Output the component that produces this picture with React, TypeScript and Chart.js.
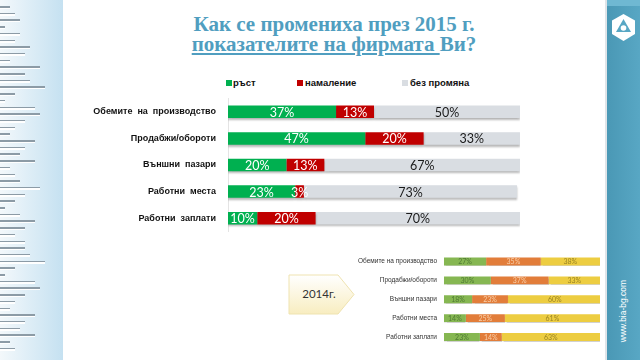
import React, { useEffect, useRef } from "react";
import { Chart, registerables } from "chart.js";
Chart.register(...registerables);

const categories = [
  "Обемите  на  производство",
  "Продабжи/обороти",
  "Външни  пазари",
  "Работни  места",
  "Работни  заплати",
];
const categories2014 = [
  "Обемите на производство",
  "Продабжи/обороти",
  "Външни пазари",
  "Работни места",
  "Работни заплати",
];
const seriesNames = ["ръст", "намаление", "без промяна"];
const growth2015 = [37, 47, 20, 23, 10];
const decline2015 = [13, 20, 13, 3, 20];
const same2015 = [50, 33, 67, 73, 70];
const growth2014 = [27, 30, 18, 14, 23];
const decline2014 = [35, 37, 23, 25, 14];
const same2014 = [38, 33, 60, 61, 63];

const colors2015 = ["#00b050", "#c00000", "#d9dde2"];
const labelColors2015 = ["#ffffff", "#ffffff", "#1a1a1a"];
const colors2014 = ["#86b752", "#e27d3a", "#edcd41"];
const labelColors2014 = ["#4f7a33", "#f9cfa8", "#9a8424"];

const decoLines = [10, 15, 20, 5, 20, 15, 30, 25, 10, 40, 25, 30, 45, 15, 5, 35, 40, 25, 15, 10, 35, 25, 20, 35, 10, 15, 20, 40, 25, 15, 5, 20, 35, 25, 15, 25, 25, 30, 45, 15, 5, 35, 40, 25, 15, 10, 35, 25, 20, 35, 10, 15];

const segPlugin: any = {
  id: "segLabels",
  beforeDatasetsDraw(chart: any, _a: any, opts: any) {
    const ctx = chart.ctx;
    ctx.save();
    ctx.shadowColor = opts.shadowColor;
    ctx.shadowOffsetY = opts.shadowOffset;
    ctx.shadowBlur = opts.shadowBlur;
  },
  afterDatasetsDraw(chart: any, _a: any, opts: any) {
    const ctx = chart.ctx;
    ctx.restore();
    ctx.save();
    ctx.font = opts.font;
    ctx.textAlign = "center";
    ctx.textBaseline = "middle";
    chart.data.datasets.forEach((ds: any, di: number) => {
      const meta = chart.getDatasetMeta(di);
      meta.data.forEach((el: any, i: number) => {
        const p = el.getProps(["x", "y", "base"], true);
        ctx.fillStyle = opts.colors[di];
        ctx.fillText(ds.data[i] + "%", (p.x + p.base) / 2, p.y + opts.dy);
      });
    });
    ctx.restore();
  },
};

function makeChart(
  canvas: HTMLCanvasElement,
  labels: string[],
  series: number[][],
  cols: string[],
  lblCols: string[],
  o: any
) {
  return new Chart(canvas, {
    type: "bar",
    data: {
      labels,
      datasets: series.map((d, i) => ({
        label: seriesNames[i],
        data: d,
        backgroundColor: cols[i],
        borderWidth: 0,
        barPercentage: o.barPct,
        categoryPercentage: 1,
      })),
    },
    options: {
      indexAxis: "y",
      responsive: false,
      animation: false,
      layout: { padding: o.padding },
      plugins: {
        legend: { display: false },
        tooltip: { enabled: false },
        segLabels: {
          colors: lblCols,
          font: o.labelFont,
          dy: o.dy,
          shadowColor: o.shadowColor,
          shadowOffset: o.shadowOffset,
          shadowBlur: o.shadowBlur,
        },
      } as any,
      scales: {
        x: { stacked: true, min: 0, max: 100, display: false },
        y: {
          stacked: true,
          grid: { display: false, drawTicks: false },
          border: { display: o.border, color: "#e4e4e4" },
          ticks: {
            padding: o.tickPad,
            color: o.tickColor,
            font: o.tickFont,
          },
          afterFit: (s: any) => {
            s.width = o.axisWidth;
          },
        },
      },
    },
    plugins: [segPlugin],
  } as any);
}

function MainChart() {
  const ref = useRef<HTMLCanvasElement>(null);
  useEffect(() => {
    const c = makeChart(
      ref.current!,
      categories,
      [growth2015, decline2015, same2015],
      colors2015,
      labelColors2015,
      {
        barPct: 0.47,
        padding: { top: 18.5, bottom: 18.5, right: 20, left: 0 },
        labelFont: "12.5px Lato",
        dy: 1,
        shadowColor: "rgba(0,0,0,0.28)",
        shadowOffset: 2,
        shadowBlur: 2,
        border: true,
        tickPad: 12,
        tickColor: "#111111",
        tickFont: { family: "Liberation Sans", size: 9, weight: "bold" },
        axisWidth: 228,
      }
    );
    return () => c.destroy();
  }, []);
  return (
    <canvas
      ref={ref}
      width={540}
      height={170}
      style={{ position: "absolute", left: 0, top: 79.5, width: 540, height: 170 }}
    />
  );
}

function InsetChart() {
  const ref = useRef<HTMLCanvasElement>(null);
  useEffect(() => {
    const c = makeChart(
      ref.current!,
      categories2014,
      [growth2014, decline2014, same2014],
      colors2014,
      labelColors2014,
      {
        barPct: 0.42,
        padding: { top: 14, bottom: 13.5, right: 10, left: 0 },
        labelFont: "7px Lato",
        dy: 0.5,
        shadowColor: "rgba(0,0,0,0.18)",
        shadowOffset: 1,
        shadowBlur: 1,
        border: false,
        tickPad: 7,
        tickColor: "#333333",
        tickFont: { family: "Liberation Sans", size: 6.5 },
        axisWidth: 94,
      }
    );
    return () => c.destroy();
  }, []);
  return (
    <canvas
      ref={ref}
      width={260}
      height={122}
      style={{ position: "absolute", left: 350, top: 238, width: 260, height: 122 }}
    />
  );
}

export default function App() {
  const legendItems = [
    { x: 226, tx: 233 },
    { x: 297, tx: 305 },
    { x: 402, tx: 410 },
  ];
  return (
    <div
      style={{
        position: "absolute",
        left: 0,
        top: 0,
        width: 640,
        height: 360,
        overflow: "hidden",
        background: "#ffffff",
        fontFamily: "Liberation Sans, sans-serif",
      }}
    >
      {/* left decoration */}
      <div
        style={{
          position: "absolute",
          left: 0,
          top: 0,
          width: 63,
          height: 360,
          background: "linear-gradient(to right, #f3f8fb, #c5e1f1)",
        }}
      />
      {decoLines.map((len, i) => (
        <React.Fragment key={i}>
          <div
            style={{
              position: "absolute",
              left: 0,
              top: 6 + i * 6.7,
              width: len,
              height: 1.5,
              background: "#8c9ba6",
            }}
          />
          <div
            style={{
              position: "absolute",
              left: 0,
              top: 7.5 + i * 6.7,
              width: len,
              height: 1.5,
              background: "#ffffff",
            }}
          />
        </React.Fragment>
      ))}

      {/* right bar */}
      <div
        style={{
          position: "absolute",
          left: 605,
          top: 0,
          width: 2,
          height: 360,
          background: "#dfe4e8",
        }}
      />
      <div
        style={{
          position: "absolute",
          left: 607,
          top: 0,
          width: 33,
          height: 360,
          background: "linear-gradient(to right, #4a98b5, #58a7c4)",
        }}
      />
      <svg
        width={33}
        height={60}
        style={{ position: "absolute", left: 607, top: 0 }}
      >
        <polygon points="0,0 33,0 33,6 0,6" fill="#6fb8d2" />
        <polygon points="16.5,14 28,20.5 28,34 16.5,41 5,34 5,20.5" fill="#ffffff" />
        <polygon points="16.5,19 24,32 9,32" fill="#58a7c4" />
        <circle cx={16.5} cy={28} r={2.8} fill="#ffffff" />
      </svg>
      <div
        style={{
          position: "absolute",
          left: 623,
          top: 311,
          transform: "translate(-50%, -50%) rotate(-90deg)",
          color: "#ffffff",
          fontSize: 8.5,
          fontFamily: "Liberation Sans, sans-serif",
          whiteSpace: "nowrap",
        }}
      >
        www.bia-bg.com
      </div>

      {/* title */}
      <div
        style={{
          position: "absolute",
          left: 134,
          top: 14,
          width: 400,
          textAlign: "center",
          fontFamily: "Liberation Serif, serif",
          fontWeight: "bold",
          fontSize: 21,
          lineHeight: "20px",
          color: "#509ec0",
        }}
      >
        Как се промениха през 2015 г.
        <br />
        <span style={{ textDecoration: "underline" }}>показателите на фирмата </span>Ви?
      </div>

      {/* legend */}
      {seriesNames.map((n, i) => (
        <React.Fragment key={n}>
          <div
            style={{
              position: "absolute",
              left: legendItems[i].x,
              top: 80,
              width: 6,
              height: 6,
              background: colors2015[i],
            }}
          />
          <div
            style={{
              position: "absolute",
              left: legendItems[i].tx,
              top: 77,
              fontSize: 9.5,
              fontWeight: "bold",
              lineHeight: "12px",
              color: "#111111",
              whiteSpace: "pre",
            }}
          >
            {n}
          </div>
        </React.Fragment>
      ))}

      <MainChart />

      {/* 2014 callout */}
      <svg
        width={80}
        height={50}
        style={{ position: "absolute", left: 285, top: 270 }}
      >
        <defs>
          <linearGradient id="cg" x1="0" y1="0" x2="0" y2="1">
            <stop offset="0" stopColor="#ffffff" />
            <stop offset="1" stopColor="#f8edc0" />
          </linearGradient>
        </defs>
        <polygon
          points="4,5 53,5 69,24.5 53,44 4,44"
          fill="url(#cg)"
          stroke="#efe3b0"
          strokeWidth={1}
        />
        <text
          x={34}
          y={25}
          textAnchor="middle"
          dominantBaseline="middle"
          fontFamily="Lato, sans-serif"
          fontSize={11.5}
          fill="#333333"
        >
          2014г.
        </text>
      </svg>

      <InsetChart />
    </div>
  );
}
